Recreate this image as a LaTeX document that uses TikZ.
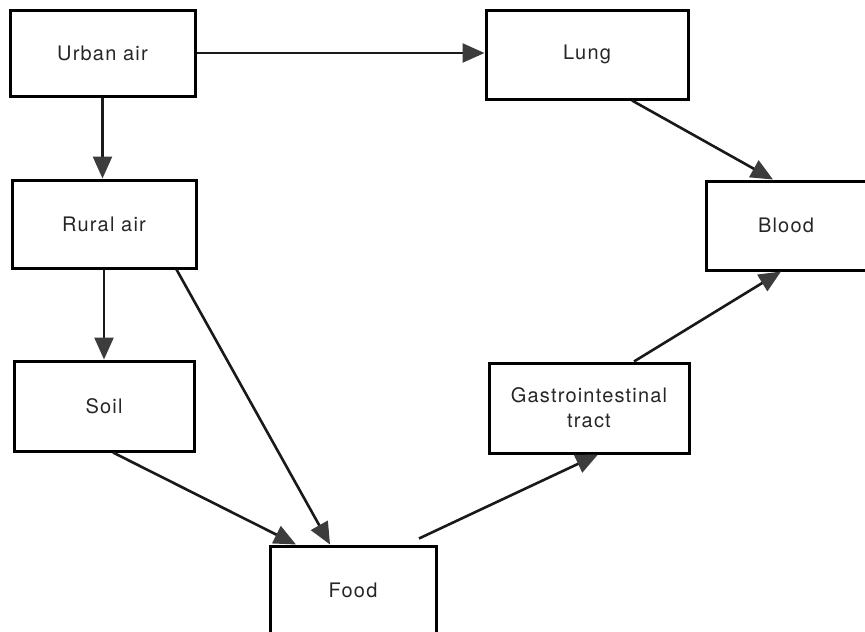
\documentclass[tikz,border=0pt]{standalone}
\usepackage{fontspec}
\newfontfamily\labfont[LetterSpace=6]{TeX Gyre Heros}
\usetikzlibrary{arrows.meta}
\definecolor{tipgray}{HTML}{3C3C3C}
\begin{document}
\begin{tikzpicture}[x=1pt,y=-1pt,
  box/.style={draw=black, line width=3pt, rectangle, inner sep=0pt,
    font=\labfont\fontsize{20}{25}\selectfont, align=center, text=black!85},
  flow/.style={line width=2.6pt, draw=black!90,
    -{Triangle[length=22pt,width=19pt,color=tipgray,fill=tipgray]}}]
\useasboundingbox (0,0) rectangle (865,632);
\clip (0,0) rectangle (865,632);
\node[box, minimum width=185pt, minimum height=86pt] (urban) at (102.5,53) {Urban air};
\node[box, minimum width=202pt, minimum height=89pt] (lung) at (587,54.5) {Lung};
\node[box, minimum width=184pt, minimum height=88pt] (rural) at (104,224) {Rural air};
\node[box, minimum width=160pt, minimum height=89pt] (blood) at (786,225.5) {Blood};
\node[box, minimum width=180pt, minimum height=90pt] (soil) at (104,406) {Soil};
\node[box, minimum width=200pt, minimum height=90pt] (gi) at (589,408) {Gastrointestinal\\tract};
\node[box, minimum width=166pt, minimum height=88pt] (food) at (353,590) {Food};
\coordinate (foodout) at ([xshift=66pt,yshift=6pt]food.north);
\draw[flow] (urban.east) -- (urban.east -| lung.west);
\draw[flow] (urban.south) -- (urban.south |- rural.north);
\draw[flow] (rural.south) -- (rural.south |- soil.north);
\draw[flow] ([xshift=45pt]lung.south) -- ([xshift=-13pt]blood.north);
\draw[flow] ([xshift=-21pt]rural.south east) -- ([xshift=-23pt]food.north);
\draw[flow] ([xshift=9pt]soil.south) -- ([xshift=-57pt]food.north);
\draw[flow] (foodout) -- ([xshift=9pt]gi.south);
\draw[flow] ([xshift=45pt]gi.north) -- ([xshift=-5pt]blood.south);
\end{tikzpicture}
\end{document}
